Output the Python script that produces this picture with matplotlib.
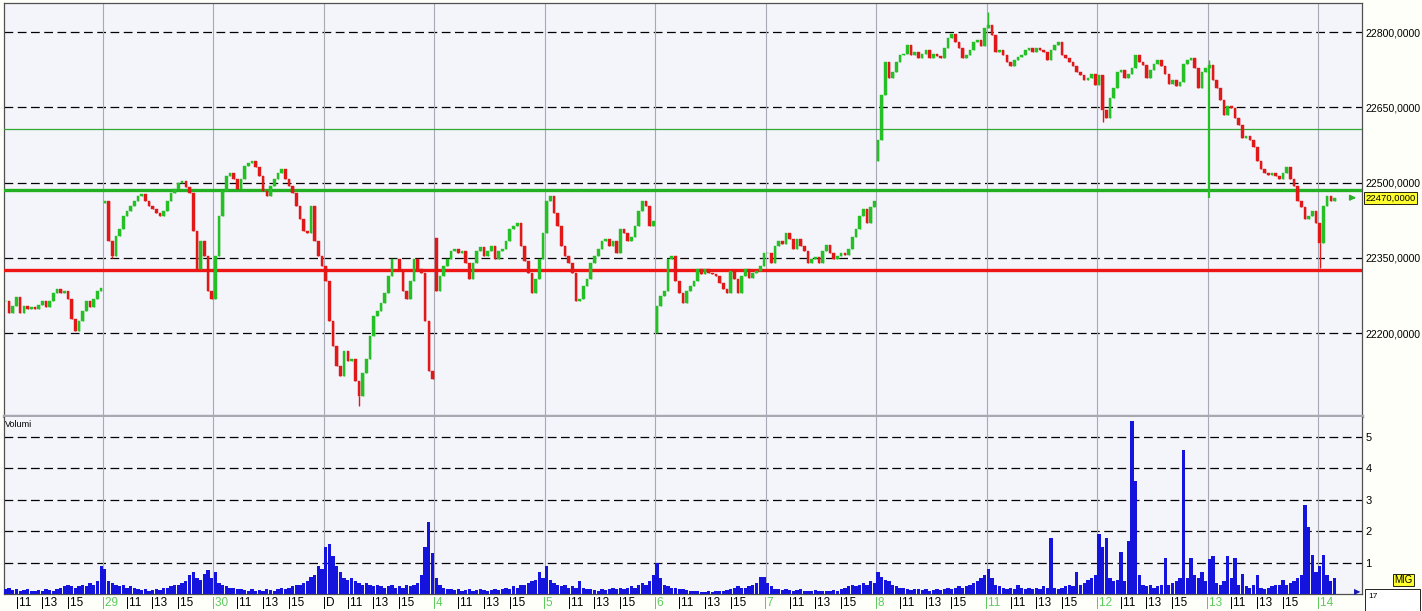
import matplotlib
matplotlib.use("Agg")
import matplotlib.pyplot as plt
import matplotlib.transforms as mtransforms
from matplotlib.patches import Rectangle

# ---------------- data ----------------
day_labels = ["28", "29", "30", "D", "4", "5", "6", "7", "8", "11", "12", "13", "14"]
hour_labels = ["11", "13", "15"]
hour_pos = [0.22, 0.45, 0.685]

c_28 = [22264, 22240, 22254, 22272, 22240, 22254, 22248, 22252, 22248, 22256, 22264, 22252, 22264, 22280,
        22288, 22280, 22284, 22268, 22228, 22204, 22224, 22244, 22264, 22252, 22268, 22284, 22290]
c_29 = [22464, 22384, 22354, 22394, 22408, 22434, 22444, 22454, 22464, 22474, 22478, 22464, 22454, 22448,
        22440, 22434, 22444, 22464, 22480, 22488, 22500, 22504, 22492, 22480, 22404, 22328, 22384, 22354,
        22284, 22268]
c_30 = [22354, 22434, 22484, 22514, 22520, 22508, 22488, 22508, 22534, 22540, 22544, 22532, 22514, 22484,
        22474, 22494, 22508, 22520, 22528, 22508, 22494, 22480, 22454, 22428, 22404, 22400, 22454, 22384,
        22354, 22334]
c_01 = [22304, 22224, 22174, 22134, 22114, 22164, 22144, 22148, 22104, 22074, 22120, 22148, 22194, 22234,
        22244, 22260, 22280, 22314, 22348, 22348, 22324, 22284, 22268, 22304, 22348, 22328, 22320, 22224,
        22124, 22108]
c_04 = [22284, 22314, 22334, 22348, 22364, 22368, 22360, 22364, 22340, 22308, 22340, 22364, 22372, 22354,
        22364, 22374, 22348, 22364, 22368, 22384, 22408, 22414, 22420, 22374, 22344, 22320, 22280, 22308,
        22348, 22400]
c_05 = [22464, 22474, 22440, 22414, 22374, 22354, 22340, 22320, 22264, 22268, 22294, 22308, 22340, 22354,
        22368, 22384, 22388, 22374, 22384, 22360, 22408, 22400, 22384, 22392, 22414, 22444, 22464, 22454,
        22414, 22424]
c_06 = [22254, 22274, 22284, 22348, 22354, 22304, 22280, 22260, 22284, 22294, 22304, 22328, 22318, 22328,
        22320, 22318, 22314, 22300, 22288, 22280, 22324, 22308, 22280, 22314, 22328, 22310, 22320, 22324,
        22334, 22360]
c_07 = [22360, 22340, 22374, 22384, 22378, 22400, 22388, 22368, 22388, 22374, 22364, 22340, 22348, 22352,
        22340, 22364, 22376, 22360, 22348, 22354, 22360, 22356, 22368, 22392, 22408, 22434, 22448, 22420,
        22452, 22464]
c_08 = [22584, 22674, 22740, 22708, 22720, 22740, 22754, 22756, 22774, 22754, 22760, 22748, 22756, 22764,
        22748, 22756, 22752, 22748, 22768, 22788, 22796, 22780, 22768, 22748, 22754, 22764, 22780, 22784,
        22772, 22808]
c_11 = [22814, 22794, 22760, 22764, 22754, 22740, 22732, 22744, 22750, 22754, 22764, 22768, 22760, 22768,
        22764, 22760, 22744, 22764, 22774, 22780, 22754, 22748, 22740, 22732, 22720, 22714, 22704, 22708,
        22716, 22694]
c_12 = [22714, 22644, 22628, 22668, 22688, 22720, 22724, 22708, 22716, 22728, 22754, 22740, 22734, 22708,
        22724, 22736, 22744, 22732, 22716, 22696, 22704, 22692, 22700, 22736, 22744, 22748, 22728, 22688,
        22720, 22728]
c_13 = [22734, 22704, 22688, 22664, 22634, 22652, 22648, 22628, 22614, 22588, 22592, 22584, 22572, 22544,
        22528, 22520, 22516, 22520, 22514, 22508, 22520, 22532, 22508, 22494, 22464, 22452, 22428, 22434,
        22444, 22420]
c_14 = [22380, 22454, 22474, 22464, 22470]

v_28 = [0.15, 0.2, 0.12, 0.15, 0.1, 0.12, 0.15, 0.1, 0.08, 0.12, 0.1, 0.15, 0.12, 0.1, 0.15, 0.2, 0.25,
        0.3, 0.25, 0.2, 0.25, 0.3, 0.25, 0.35, 0.3, 0.4, 0.9]
v_29 = [0.8, 0.4, 0.35, 0.3, 0.25, 0.3, 0.2, 0.25, 0.2, 0.15, 0.12, 0.15, 0.1, 0.12, 0.15, 0.12, 0.18,
        0.2, 0.25, 0.3, 0.3, 0.35, 0.4, 0.6, 0.7, 0.5, 0.45, 0.65, 0.75, 0.5]
v_30 = [0.7, 0.35, 0.3, 0.25, 0.2, 0.2, 0.15, 0.15, 0.12, 0.1, 0.15, 0.1, 0.12, 0.1, 0.15, 0.12, 0.1,
        0.15, 0.2, 0.15, 0.2, 0.25, 0.3, 0.3, 0.35, 0.4, 0.55, 0.6, 0.9, 0.8]
v_01 = [1.5, 1.6, 1.2, 0.9, 0.7, 0.5, 0.45, 0.5, 0.4, 0.35, 0.3, 0.35, 0.3, 0.25, 0.3, 0.25, 0.2, 0.25,
        0.3, 0.2, 0.25, 0.2, 0.3, 0.25, 0.3, 0.35, 0.6, 1.5, 2.3, 1.3]
v_04 = [0.5, 0.3, 0.2, 0.15, 0.15, 0.12, 0.15, 0.1, 0.12, 0.15, 0.1, 0.12, 0.15, 0.12, 0.1, 0.12, 0.15,
        0.12, 0.15, 0.2, 0.15, 0.25, 0.2, 0.3, 0.3, 0.35, 0.4, 0.45, 0.7, 0.5]
v_05 = [0.9, 0.45, 0.35, 0.3, 0.25, 0.3, 0.2, 0.25, 0.2, 0.4, 0.2, 0.15, 0.15, 0.12, 0.1, 0.15, 0.12,
        0.15, 0.18, 0.15, 0.2, 0.15, 0.2, 0.25, 0.2, 0.3, 0.35, 0.3, 0.4, 0.6]
v_06 = [1.0, 0.5, 0.3, 0.25, 0.2, 0.2, 0.15, 0.15, 0.12, 0.1, 0.1, 0.08, 0.06, 0.05, 0.08, 0.06, 0.1,
        0.08, 0.1, 0.12, 0.15, 0.2, 0.25, 0.2, 0.2, 0.25, 0.3, 0.35, 0.55, 0.55]
v_07 = [0.35, 0.25, 0.15, 0.15, 0.12, 0.15, 0.12, 0.1, 0.12, 0.15, 0.1, 0.08, 0.1, 0.12, 0.08, 0.1, 0.08,
        0.1, 0.12, 0.1, 0.15, 0.2, 0.25, 0.3, 0.25, 0.3, 0.35, 0.3, 0.4, 0.35]
v_08 = [0.7, 0.55, 0.45, 0.4, 0.3, 0.25, 0.2, 0.2, 0.15, 0.12, 0.15, 0.15, 0.12, 0.15, 0.1, 0.12, 0.15,
        0.12, 0.15, 0.2, 0.15, 0.2, 0.25, 0.2, 0.25, 0.3, 0.35, 0.4, 0.5, 0.6]
v_11 = [0.8, 0.5, 0.3, 0.25, 0.2, 0.15, 0.2, 0.15, 0.3, 0.2, 0.15, 0.2, 0.15, 0.2, 0.15, 0.25, 0.2, 1.8,
        0.2, 0.15, 0.2, 0.25, 0.3, 0.25, 0.7, 0.3, 0.35, 0.45, 0.5, 0.6]
v_12 = [1.9, 1.5, 1.8, 0.5, 0.4, 0.45, 1.35, 0.4, 1.7, 5.5, 3.6, 0.6, 0.3, 0.25, 0.3, 0.2, 0.25, 0.3,
        1.15, 0.3, 0.35, 0.4, 0.5, 4.6, 0.5, 1.15, 0.6, 0.5, 0.7, 0.4]
v_13 = [1.1, 1.2, 0.35, 0.3, 0.4, 1.2, 0.5, 1.15, 0.3, 0.65, 0.25, 0.2, 0.3, 0.6, 0.2, 0.15, 0.2, 0.25,
        0.3, 0.3, 0.45, 0.3, 0.35, 0.4, 0.5, 0.6, 2.85, 2.15, 1.25, 0.7]
v_14 = [0.9, 1.25, 0.6, 0.4, 0.5]

closes = [c_28, c_29, c_30, c_01, c_04, c_05, c_06, c_07, c_08, c_11, c_12, c_13, c_14]
volumes = [v_28, v_29, v_30, v_01, v_04, v_05, v_06, v_07, v_08, v_11, v_12, v_13, v_14]

# opening price of the first bar of a day where the market gapped
day_open = {1: 22460, 4: 22390, 6: 22200, 8: 22544}
# explicit wicks: (day, bar, low, high)
wicks = [(1, 2, 22350, None), (3, 9, 22054, None), (8, 0, 22544, None), (9, 0, None, 22840),
         (10, 1, 22620, None), (11, 0, 22470, 22744), (12, 0, 22330, None)]

resistance = 22486
support = 22326
upper_level = 22606
last_price = 22470
price_ticks = [22200, 22350, 22500, 22650, 22800]
vol_ticks = [1, 2, 3, 4, 5]

# ---------------- layout ----------------
W, H = 1422, 611
SLOTS = 30
first_slot = [3] + [0] * 12
LAB_FONT = "Liberation Sans"

fig = plt.figure(figsize=(W / 100, H / 100), dpi=100, facecolor="#FFFFFA")

def fx(px):
    return px / W

def fy(py):
    return 1 - py / H

ax = fig.add_axes([fx(4), fy(416), fx(1362) - fx(4), fy(3) - fy(416)])
axv = fig.add_axes([fx(4), fy(594), fx(1362) - fx(4), fy(417) - fy(594)], sharex=ax)

bg = "#F4F4FB"
for a in (ax, axv):
    a.set_facecolor(bg)
    a.set_xticks([])
    a.yaxis.tick_right()
    a.tick_params(axis="y", length=0, pad=2.5, labelsize=7.6, colors="black")

x_left = 1 + (4 - 103) / 110.45
x_right = 1 + (1362 - 103) / 110.45
ax.set_xlim(x_left, x_right)
ax.set_ylim(22035, 22858)
axv.set_ylim(0, 5.64)

ax.set_yticks(price_ticks)
ax.set_yticklabels([f"{p},0000" for p in price_ticks], fontfamily=LAB_FONT)
axv.set_yticks(vol_ticks)
axv.set_yticklabels([str(v) for v in vol_ticks], fontfamily=LAB_FONT, fontsize=8)

dash = (0, (7, 3.6))
for p in price_ticks:
    ax.axhline(p, color="black", lw=0.9, ls=dash, zorder=1)
for v in vol_ticks:
    axv.axhline(v, color="black", lw=0.9, ls=dash, zorder=1)
for d in range(1, len(day_labels)):
    ax.axvline(d, color="#A9A9B6", lw=0.8, zorder=1)
    axv.axvline(d, color="#A9A9B6", lw=0.8, zorder=1)

# spines
for a in (ax, axv):
    for s in a.spines.values():
        s.set_color("#505050")
        s.set_linewidth(0.9)
ax.spines["bottom"].set_color("#A8A8B2")
ax.spines["bottom"].set_linewidth(2.5)
axv.spines["top"].set_visible(False)

# ---------------- candles ----------------
xs, opens, cls, vols = [], [], [], []
prev = None
for d, (cl, vl) in enumerate(zip(closes, volumes)):
    for i, (c, v) in enumerate(zip(cl, vl)):
        slot = first_slot[d] + i
        x = d + (slot + 0.5) / SLOTS
        if i == 0 and d in day_open:
            o = day_open[d]
        elif prev is None:
            o = c
        else:
            o = prev
        xs.append(x)
        opens.append(o)
        cls.append(c)
        vols.append(v)
        prev = c

up_col, dn_col = "#25C025", "#E01818"
colors = [up_col if c >= o else dn_col for o, c in zip(opens, cls)]
bw = 0.72 / SLOTS
ax.bar(xs, [c - o for o, c in zip(opens, cls)], bottom=opens, width=bw, color=colors,
       edgecolor=colors, linewidth=0.3, zorder=4)
ax.vlines(xs, opens, cls, colors=colors, lw=1.0, zorder=4)

for d, i, lo, hi in wicks:
    x = d + (first_slot[d] + i + 0.5) / SLOTS
    idx = sum(len(c) for c in closes[:d]) + i
    body_lo = min(opens[idx], cls[idx])
    body_hi = max(opens[idx], cls[idx])
    col = colors[idx] if not (d == 11) else up_col
    if lo is not None:
        ax.vlines(x, lo, body_lo, colors=col, lw=1.6 if d == 11 else 1.0, zorder=4)
    if hi is not None:
        ax.vlines(x, body_hi, hi, colors=col, lw=1.0, zorder=4)

# levels
ax.axhline(resistance, color="#22B022", lw=2.4, zorder=3)
ax.axhline(support, color="#EE1515", lw=2.4, zorder=3)
ax.axhline(upper_level, color="#33A833", lw=0.9, zorder=3)

# volume
axv.bar(xs, vols, width=0.9 / SLOTS, color="#1414DC", edgecolor="none", zorder=4)
axv.text(0.001, 0.955, "Volumi", transform=axv.transAxes, fontsize=6.5, ha="left", va="center",
         fontfamily=LAB_FONT)

# ---------------- x labels ----------------
trans = mtransforms.blended_transform_factory(axv.transData, axv.transAxes)
label_y = (594 - 603) / (594 - 417)
for d, lab in enumerate(day_labels):
    if d > 0:
        col = "black" if lab == "D" else "#5CCB5C"
        axv.text(d - 0.012, label_y, "|" + lab, transform=trans, fontsize=8.5, color=col,
                 ha="left", va="center", clip_on=False, fontfamily=LAB_FONT)
    for hp, hl in zip(hour_pos, hour_labels):
        xh = d + hp
        if x_left < xh < 12.2:
            axv.text(xh - 0.012, label_y, "|" + hl, transform=trans, fontsize=8.5, color="black",
                     ha="left", va="center", clip_on=False, fontfamily=LAB_FONT)

# ---------------- decorations ----------------
ax.annotate("", xy=(12.37, last_price), xytext=(12.29, last_price),
            arrowprops=dict(arrowstyle="-|>", color="#2BB02B", lw=1.2, mutation_scale=8), zorder=5)
fig.text(fx(1365), fy(198), f"{last_price},0000", fontsize=6.8, ha="left", va="center",
         fontfamily=LAB_FONT,
         bbox=dict(boxstyle="square,pad=0.15", facecolor="#FFFF30", edgecolor="black", linewidth=0.6))
fig.text(fx(1394), fy(580), "MIG", fontsize=7, ha="left", va="center", fontfamily=LAB_FONT,
         bbox=dict(boxstyle="square,pad=0.15", facecolor="#FFFF30", edgecolor="black", linewidth=0.6))
fig.patches.append(Rectangle((fx(1365), fy(611)), fx(1420) - fx(1365), fy(589) - fy(611),
                             transform=fig.transFigure, facecolor="white", edgecolor="black", lw=0.6))
fig.text(fx(1368), fy(597), "17", fontsize=6, ha="left", va="center", fontfamily=LAB_FONT)
fig.text(fx(1357), fy(592), "\u25B6", fontsize=6, color="#1818B0", ha="center", va="center")

fig.savefig("out.png", dpi=100, facecolor=fig.get_facecolor())
